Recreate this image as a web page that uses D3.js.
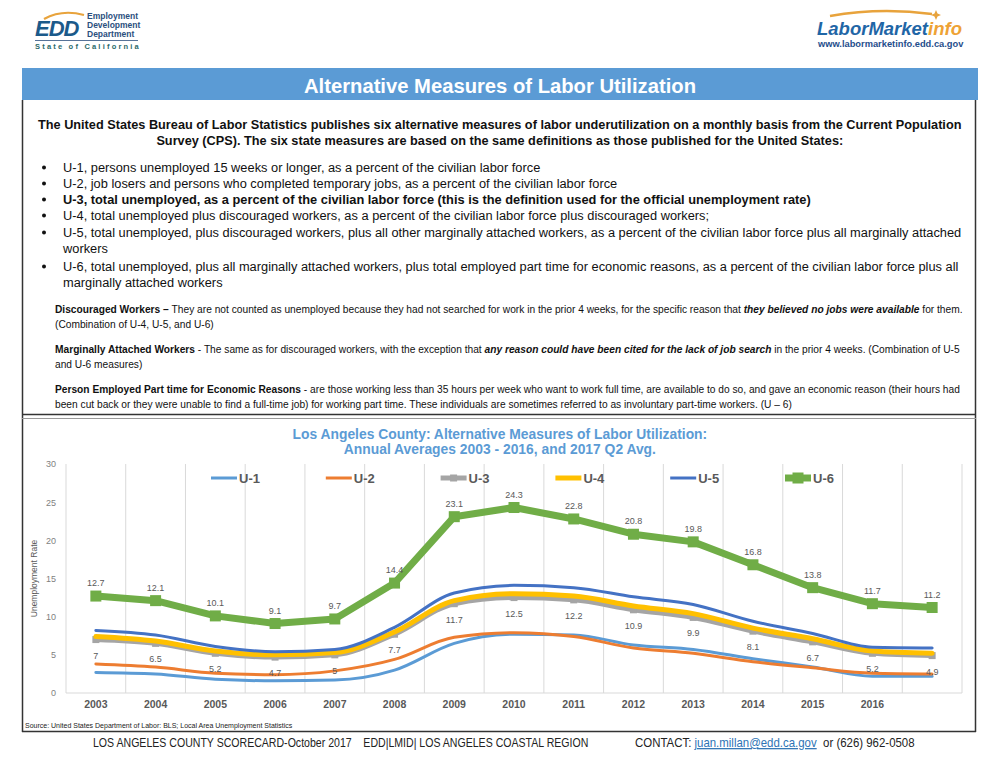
<!DOCTYPE html>
<html><head><meta charset="utf-8">
<script src="https://cdn.jsdelivr.net/npm/d3@7/dist/d3.min.js"></script>
<style>
html,body{margin:0;padding:0;background:#fff;}
svg{display:block;}
text{font-family:"Liberation Sans",Arial,sans-serif;}
</style></head>
<body>
<svg id="page" width="1000" height="773"></svg>
<script>
// ---------- DATA ----------
const categories = ["2003","2004","2005","2006","2007","2008","2009","2010","2011","2012","2013","2014","2015","2016","2017 Q2"];
const tickLabels = ["2003","2004","2005","2006","2007","2008","2009","2010","2011","2012","2013","2014","2015","2016",""];
const yTicks = [0,5,10,15,20,25,30];
const seriesNames = ["U-1","U-2","U-3","U-4","U-5","U-6"];
const u1 = [2.7,2.5,1.8,1.6,1.7,3.0,6.5,7.7,7.6,6.3,5.7,4.5,3.4,2.2,2.2];
const u2 = [3.8,3.4,2.6,2.4,2.9,4.4,7.3,7.9,7.4,5.9,5.2,4.1,3.3,2.6,2.5];
const u3 = [7,6.5,5.2,4.7,5,7.7,11.7,12.5,12.2,10.9,9.9,8.1,6.7,5.2,4.9];
const u4 = [7.4,6.8,5.5,5.0,5.3,8.0,12.1,13.0,12.7,11.4,10.4,8.5,7.1,5.5,5.2];
const u5 = [8.2,7.6,6.1,5.4,5.7,8.6,13.1,14.1,13.8,12.6,11.6,9.4,7.8,6.0,5.9];
const u6 = [12.7,12.1,10.1,9.1,9.7,14.4,23.1,24.3,22.8,20.8,19.8,16.8,13.8,11.7,11.2];

const svg = d3.select("#page");

// helper: draw a text line (array of [string, style]) then squeeze horizontally
function makeLine(g, x, y, parts, size, opts={}) {
  const t = g.append("text").attr("x",0).attr("y",0).attr("font-size",size).attr("fill",opts.fill||"#111");
  parts.forEach(p => {
    const ts = t.append("tspan").text(p[0]);
    if (p[1] && p[1].includes("b")) ts.attr("font-weight","bold");
    if (p[1] && p[1].includes("i")) ts.attr("font-style","italic");
  });
  const w = t.node().getComputedTextLength();
  return {t, w, place(scale, anchor){ 
    const ww = w*scale; let x0 = x;
    if (anchor==="middle") x0 = x - ww/2;
    t.attr("transform",`translate(${x0},${y}) scale(${scale},1)`);
  }};
}

// ---------- HEADER LOGOS ----------
const logo = svg.append("g");
logo.append("path").attr("d","M44,19 Q62,9 84,15").attr("fill","none").attr("stroke","#e8a33c").attr("stroke-width",2.2);
logo.append("text").attr("x",35).attr("y",36).attr("font-size",22).attr("font-weight","bold").attr("font-style","italic")
  .attr("fill","#1b5a8a").attr("letter-spacing","-1").text("EDD");
[["Employment",19],["Development",28],["Department",37]].forEach(d=>{
  logo.append("text").attr("x",87).attr("y",d[1]).attr("font-size",8.5).attr("font-weight","bold").attr("fill","#2b4f7e").text(d[0]);
});
logo.append("line").attr("x1",35).attr("x2",138).attr("y1",40.5).attr("y2",40.5).attr("stroke","#2b4f7e").attr("stroke-width",0.8);
logo.append("text").attr("x",35).attr("y",49).attr("font-size",7.5).attr("font-weight","bold").attr("fill","#2b6a6a")
  .attr("letter-spacing","2.2").text("State of California");

const lmi = svg.append("g");
lmi.append("path").attr("d","M830,16 Q880,7 932,14").attr("fill","none").attr("stroke","#e8a33c").attr("stroke-width",2.5);
lmi.append("path").attr("d","M936,10 L937.5,13.5 L941,15 L937.5,16.5 L936,20 L934.5,16.5 L931,15 L934.5,13.5 Z").attr("fill","#e8a33c");
const lt = lmi.append("text").attr("x",817).attr("y",35).attr("font-size",18.5).attr("font-weight","bold").attr("font-style","italic");
lt.append("tspan").attr("fill","#1f66a6").text("LaborMarket");
lt.append("tspan").attr("fill","#eea235").text("info");
lmi.append("text").attr("x",818).attr("y",47).attr("font-size",9.3).attr("font-weight","bold").attr("fill","#1f4e8c").text("www.labormarketinfo.edd.ca.gov");

// ---------- TITLE BAR & FRAME ----------
svg.append("rect").attr("x",22).attr("y",68).attr("width",956).attr("height",32).attr("fill","#5b9bd5");
{
  const l = makeLine(svg.append("g"), 500, 93, [["Alternative Measures of Labor Utilization","b"]], 21, {fill:"#fff"});
  l.place(392/l.w, "middle");
}
const frame = svg.append("g").attr("fill","none").attr("stroke","#333");
frame.append("line").attr("x1",22.5).attr("x2",22.5).attr("y1",100).attr("y2",732).attr("stroke-width",1.5);
frame.append("line").attr("x1",975.5).attr("x2",975.5).attr("y1",100).attr("y2",732).attr("stroke-width",1.5);
frame.append("line").attr("x1",22).attr("x2",976).attr("y1",414.5).attr("y2",414.5).attr("stroke-width",1.5);
frame.append("line").attr("x1",22).attr("x2",976).attr("y1",418.5).attr("y2",418.5).attr("stroke","#999").attr("stroke-width",1);
frame.append("line").attr("x1",22).attr("x2",976).attr("y1",731.5).attr("y2",731.5).attr("stroke-width",1.5);

// ---------- INTRO TEXT ----------
const tg = svg.append("g");
{
  const a = makeLine(tg, 500, 129, [["The United States Bureau of Labor Statistics publishes six alternative measures of labor underutilization on a monthly basis from the Current Population","b"]], 13.5);
  const s = 924/a.w; a.place(s,"middle");
  const b = makeLine(tg, 500, 145, [["Survey (CPS). The six state measures are based on the same definitions as those published for the United States:","b"]], 13.5);
  b.place(s,"middle");
}
const bullets = [
  [172, [["U-1, persons unemployed 15 weeks or longer, as a percent of the civilian labor force",""]], true],
  [188, [["U-2, job losers and persons who completed temporary jobs, as a percent of the civilian labor force",""]], true],
  [204, [["U-3, total unemployed, as a percent of the civilian labor force (this is the definition used for the official unemployment rate)","b"]], true],
  [220, [["U-4, total unemployed plus discouraged workers, as a percent of the civilian labor force plus discouraged workers;",""]], true],
  [237, [["U-5, total unemployed, plus discouraged workers, plus all other marginally attached workers, as a percent of the civilian labor force plus all marginally attached",""]], true],
  [253, [["workers",""]], false],
  [271, [["U-6, total unemployed, plus all marginally attached workers, plus total employed part time for economic reasons, as a percent of the civilian labor force plus all",""]], true],
  [287, [["marginally attached workers",""]], false]
];
{
  const lines = bullets.map(b => makeLine(tg, 63, b[0], b[1], 13.5));
  const s = 899/lines[4].w;
  lines.forEach((l,i)=>{ l.place(s); if (bullets[i][2]) tg.append("circle").attr("cx",44).attr("cy",bullets[i][0]-4.5).attr("r",2).attr("fill","#111"); });
}
const paras = [
  [313, [["Discouraged Workers – ","b"],["They are not counted as unemployed because they had not searched for work in the prior 4 weeks, for the specific reason that ",""],["they believed no jobs were available","bi"],[" for them.",""]]],
  [328, [["(Combination of U-4, U-5, and U-6)",""]]],
  [353, [["Marginally Attached Workers","b"],[" - The same as for discouraged workers, with the exception that ",""],["any reason could have been cited for the lack of job search","bi"],[" in the prior 4 weeks. (Combination of U-5",""]]],
  [368, [["and U-6 measures)",""]]],
  [393, [["Person Employed Part time for Economic Reasons","b"],[" - are those working less than 35 hours per week who want to work full time, are available to do so, and gave an economic reason (their hours had",""]]],
  [408, [["been cut back or they were unable to find a full-time job) for working part time. These individuals are sometimes referred to as involuntary part-time workers. (U – 6)",""]]]
];
{
  const lines = paras.map(p => makeLine(tg, 55, p[0], p[1], 10.8));
  const s = 908/lines[0].w;
  lines.forEach(l => l.place(s));
}

// ---------- CHART ----------
const x = d3.scaleBand().domain(categories).range([66, 962]);
const y = d3.scaleLinear().domain([0, 30]).range([693, 464]);
const cx = d => x(d) + x.bandwidth()/2;
const chart = svg.append("g");

// title
{
  const cg = chart.append("g");
  const a = makeLine(cg, 500, 439, [["Los Angeles County: Alternative Measures of Labor Utilization:","b"]], 14, {fill:"#5b9bd5"});
  a.place(415/a.w, "middle");
  const b = makeLine(cg, 500, 454, [["Annual Averages 2003 - 2016, and 2017 Q2 Avg.","b"]], 14, {fill:"#5b9bd5"});
  b.place(415/a.w, "middle");
}

// vertical gridlines at band boundaries
const bounds = categories.map(c => x(c)).concat([x.range()[1]]);
chart.append("g").selectAll("line").data(bounds).join("line")
  .attr("x1",d=>d).attr("x2",d=>d).attr("y1",y(30)).attr("y2",y(0))
  .attr("stroke","#d9d9d9").attr("stroke-width",1);
chart.append("line").attr("x1",66).attr("x2",962).attr("y1",y(0)).attr("y2",y(0)).attr("stroke","#d9d9d9");

// y axis
const yAx = chart.append("g").attr("transform","translate(58,0)")
  .call(d3.axisLeft(y).tickValues(yTicks).tickSize(0).tickPadding(2));
yAx.select(".domain").remove();
yAx.selectAll("text").attr("font-size",9).attr("fill","#7f7f7f").attr("font-family","Liberation Sans, Arial, sans-serif");
chart.append("text").attr("transform",`translate(37,${y(15)}) rotate(-90)`).attr("text-anchor","middle")
  .attr("font-size",8.5).attr("fill","#595959").text("Unemployment Rate");

// x axis
const xAx = chart.append("g").attr("transform",`translate(0,${y(0)})`)
  .call(d3.axisBottom(x).tickSize(0).tickPadding(8).tickFormat((d,i)=>tickLabels[i]));
xAx.select(".domain").remove();
xAx.selectAll("text").attr("font-size",10.5).attr("font-weight","bold").attr("fill","#595959").attr("font-family","Liberation Sans, Arial, sans-serif");

// series
const series = [
  {name:"U-1", vals:u1, color:"#5b9bd5", w:3, curve:d3.curveMonotoneX},
  {name:"U-2", vals:u2, color:"#ed7d31", w:3, curve:d3.curveMonotoneX},
  {name:"U-3", vals:u3, color:"#a5a5a5", w:5, curve:d3.curveMonotoneX, marker:7},
  {name:"U-4", vals:u4, color:"#ffc000", w:5, curve:d3.curveMonotoneX},
  {name:"U-5", vals:u5, color:"#4472c4", w:3, curve:d3.curveMonotoneX},
  {name:"U-6", vals:u6, color:"#70ad47", w:7, curve:d3.curveLinear, marker:11}
];
series.forEach(s => {
  const line = d3.line().x((d,i)=>cx(categories[i])).y(d=>y(d)).curve(s.curve);
  chart.append("path").datum(s.vals).attr("d",line).attr("fill","none")
    .attr("stroke",s.color).attr("stroke-width",s.w).attr("stroke-linejoin","round").attr("stroke-linecap","round");
  if (s.marker) {
    chart.append("g").selectAll("rect").data(s.vals).join("rect")
      .attr("x",(d,i)=>cx(categories[i])-s.marker/2).attr("y",d=>y(d)-s.marker/2)
      .attr("width",s.marker).attr("height",s.marker).attr("fill",s.color);
  }
});
// data labels
const lblStyle = sel => sel.attr("font-size",9).attr("fill","#595959").attr("text-anchor","middle");
chart.append("g").selectAll("text").data(u6).join("text")
  .attr("x",(d,i)=>cx(categories[i])).attr("y",d=>y(d)-10).text(d=>d).call(lblStyle);
chart.append("g").selectAll("text").data(u3).join("text")
  .attr("x",(d,i)=>cx(categories[i])).attr("y",d=>y(d)+19).text(d=>d).call(lblStyle);

// legend
const lg = chart.append("g");
series.forEach((s,k) => {
  const lx = 211 + k*114.8, ly = 478;
  lg.append("line").attr("x1",lx).attr("x2",lx+26).attr("y1",ly).attr("y2",ly)
    .attr("stroke",s.color).attr("stroke-width",s.w);
  if (s.marker) lg.append("rect").attr("x",lx+13-s.marker/2).attr("y",ly-s.marker/2).attr("width",s.marker).attr("height",s.marker).attr("fill",s.color);
  lg.append("text").attr("x",lx+28).attr("y",ly+4.5).attr("font-size",13).attr("font-weight","bold").attr("fill","#595959").text(s.name);
});

// source
chart.append("text").attr("x",25).attr("y",728).attr("font-size",7).attr("fill","#222")
  .text("Source: United States Department of Labor: BLS; Local Area Unemployment Statistics");

// ---------- FOOTER ----------
const fg = svg.append("g");
{
  const a = makeLine(fg, 93, 747, [["LOS ANGELES COUNTY SCORECARD-October 2017    EDD|LMID| LOS ANGELES COASTAL REGION",""]], 12.5, {fill:"#222"});
  a.t.style("white-space","pre");
  const wa = a.t.node().getComputedTextLength();
  a.w = wa; a.place(496/wa);
  const t = fg.append("text").attr("font-size",12.5).attr("fill","#222");
  t.append("tspan").text("CONTACT: ");
  t.append("tspan").attr("fill","#2e74b5").attr("text-decoration","underline").text("juan.millan@edd.ca.gov");
  t.append("tspan").text("  or (626) 962-0508");
  t.style("white-space","pre");
  const w = t.node().getComputedTextLength();
  t.attr("transform",`translate(635,747) scale(${280/w},1)`);
}
</script>
</body></html>
